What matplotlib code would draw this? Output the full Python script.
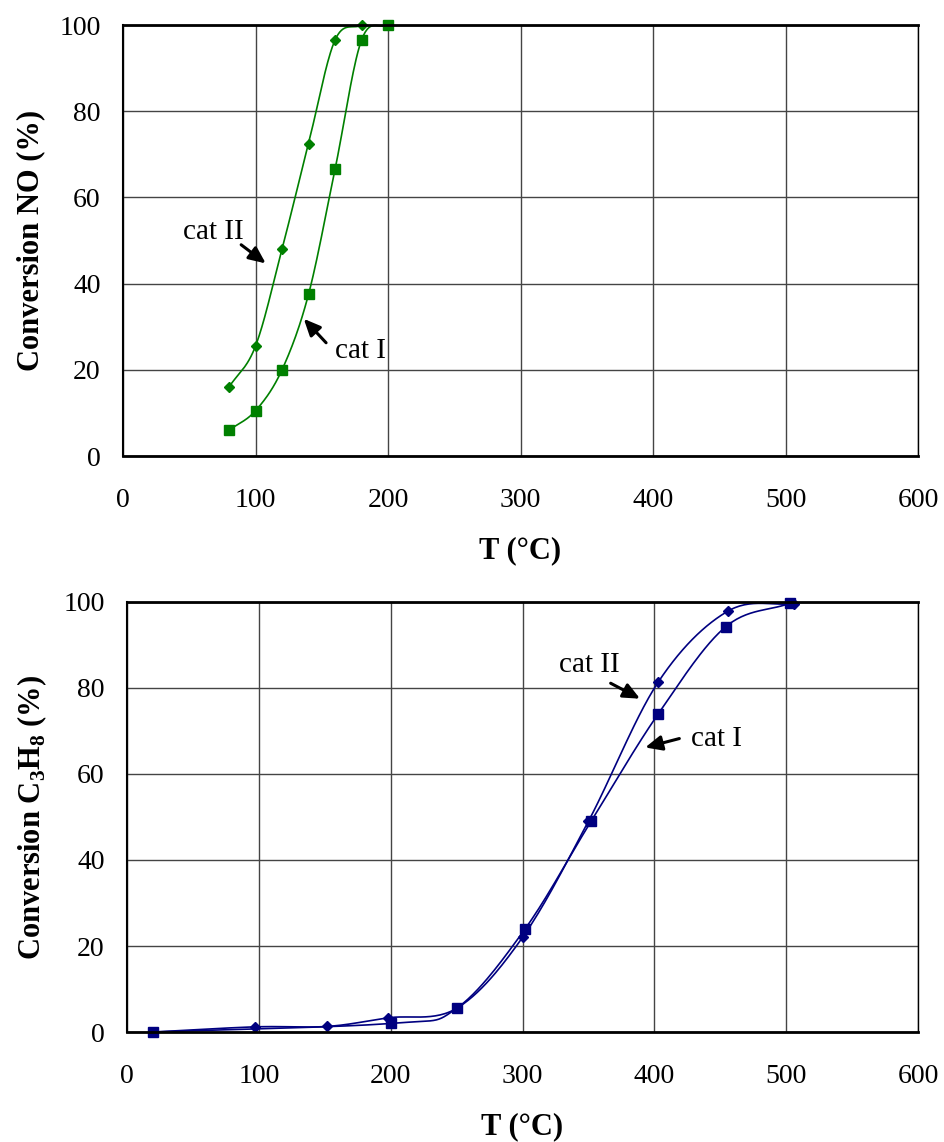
import numpy as np
import matplotlib
matplotlib.use('Agg')
import matplotlib.pyplot as plt

plt.rcParams['font.family'] = ['Liberation Serif', 'DejaVu Serif']
plt.rcParams['mathtext.fontset'] = 'custom'
plt.rcParams['mathtext.rm'] = 'Liberation Serif:bold'
plt.rcParams['mathtext.bf'] = 'Liberation Serif:bold'

# NO conversion (top)
no_t_cat1 = [80, 100, 120, 140, 160, 180, 200]
no_cat1 = [6, 10.5, 20, 37.5, 66.5, 96.5, 100]
no_t_cat2 = [80, 100, 120, 140, 160, 180]
no_cat2 = [16, 25.5, 48, 72.5, 96.5, 100]

# C3H8 conversion (bottom)
hc_t_cat1 = [20, 200, 250, 302, 352, 403, 454, 503]
hc_cat1 = [0, 2, 5.5, 24, 49, 74, 94.2, 99.7]
hc_t_cat2 = [20, 97, 152, 198, 250, 300, 350, 403, 456, 506]
hc_cat2 = [0, 1.2, 1.3, 3.3, 5.5, 22, 49, 81.4, 97.9, 99.6]


def smooth(x, y, n=30):
    # catmull-rom style smoothing like the excel smoothed lines
    x = np.asarray(x, float)
    y = np.asarray(y, float)
    px = np.concatenate([[2 * x[0] - x[1]], x, [2 * x[-1] - x[-2]]])
    py = np.concatenate([[2 * y[0] - y[1]], y, [2 * y[-1] - y[-2]]])
    xs, ys = [], []
    t = np.linspace(0, 1, n)
    for i in range(1, len(px) - 2):
        for arr, out in ((px, xs), (py, ys)):
            p0, p1, p2, p3 = arr[i - 1], arr[i], arr[i + 1], arr[i + 2]
            out.extend(0.5 * (2 * p1 + (-p0 + p2) * t
                              + (2 * p0 - 5 * p1 + 4 * p2 - p3) * t ** 2
                              + (-p0 + 3 * p1 - 3 * p2 + p3) * t ** 3))
    return xs, ys


def style_axes(ax, ylabel):
    ax.set_xlim(0, 600)
    ax.set_ylim(0, 100)
    ax.set_xticks(range(0, 601, 100))
    ax.set_yticks(range(0, 101, 20))
    ax.grid(True, color='#444444', linewidth=1.0)
    ax.set_axisbelow(True)
    ax.tick_params(length=0, labelsize=20)
    ax.tick_params(axis='x', pad=23)
    ax.tick_params(axis='y', pad=16)
    for s in ax.spines.values():
        s.set_color('black')
        s.set_linewidth(1.0)
    ax.spines['top'].set_linewidth(2.0)
    ax.spines['bottom'].set_linewidth(2.0)
    ax.spines['left'].set_linewidth(1.5)
    ax.set_xlabel('T (°C)', fontsize=22, fontweight='bold', labelpad=17)
    ax.set_ylabel(ylabel, fontsize=22, fontweight='bold', labelpad=10)


fig = plt.figure(figsize=(9.44, 11.42), dpi=100)
ax1 = fig.add_axes([0.1303, 0.6007, 0.8422, 0.3774])
ax2 = fig.add_axes([0.1345, 0.0963, 0.8380, 0.3766])

green = '#008000'
navy = '#000080'

sx, sy = smooth(no_t_cat2, no_cat2)
ax1.plot(sx, sy, color=green, lw=1.2, clip_on=False)
ax1.plot(no_t_cat2, no_cat2, 'D', color=green, ms=5.5, clip_on=False)
sx, sy = smooth(no_t_cat1, no_cat1)
ax1.plot(sx, sy, color=green, lw=1.2, clip_on=False)
ax1.plot(no_t_cat1, no_cat1, 's', color=green, ms=7, clip_on=False)
style_axes(ax1, 'Conversion NO (%)')

arrow = dict(arrowstyle='-|>,head_length=1.0,head_width=0.45', color='black', lw=2.2)
ax1.annotate('', xy=(109.4, 44.3), xytext=(87.5, 49.4), arrowprops=arrow)
ax1.text(68, 52, 'cat II', fontsize=21, ha='center', va='center')
ax1.annotate('', xy=(135, 32.3), xytext=(154.7, 25.8), arrowprops=arrow)
ax1.text(179, 24.4, 'cat I', fontsize=21, ha='center', va='center')

sx, sy = smooth(hc_t_cat2, hc_cat2)
ax2.plot(sx, sy, color=navy, lw=1.2, clip_on=False)
ax2.plot(hc_t_cat2, hc_cat2, 'D', color=navy, ms=5.5, clip_on=False)
sx, sy = smooth(hc_t_cat1, hc_cat1)
ax2.plot(sx, sy, color=navy, lw=1.2, clip_on=False)
ax2.plot(hc_t_cat1, hc_cat1, 's', color=navy, ms=7, clip_on=False)
style_axes(ax2, 'Conversion C$_3$H$_8$ (%)')

ax2.annotate('', xy=(391, 77.2), xytext=(365, 81.4), arrowprops=arrow)
ax2.text(351, 85.3, 'cat II', fontsize=21, ha='center', va='center')
ax2.annotate('', xy=(391, 66), xytext=(421, 68.4), arrowprops=arrow)
ax2.text(447, 68.1, 'cat I', fontsize=21, ha='center', va='center')

fig.savefig('out.png', dpi=100)
